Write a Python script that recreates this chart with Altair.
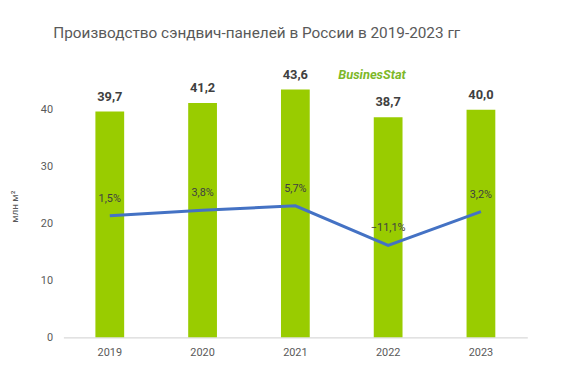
import altair as alt
import pandas as pd

years = ["2019", "2020", "2021", "2022", "2023"]
production = [39.7, 41.2, 43.6, 38.7, 40.0]
growth = [1.5, 3.8, 5.7, -11.1, 3.2]

df = pd.DataFrame({"year": years, "v": production, "p": growth})

FONT = "Roboto"
GREY = "#595959"

x = alt.X("year:N", title=None, scale=alt.Scale(paddingInner=0.69, paddingOuter=0.345),
          axis=alt.Axis(labelAngle=0, labelColor=GREY, labelFontSize=11, labelFont=FONT,
                        ticks=False, domainColor="#D9D9D9", domainWidth=1.5, labelPadding=9))

yax = alt.Y("v:Q", scale=alt.Scale(domain=[0, 50]),
            axis=alt.Axis(values=[0, 10, 20, 30, 40], grid=False, domain=False, ticks=False,
                          labelColor=GREY, labelFontSize=11, labelFont=FONT, labelPadding=11,
                          title="млн м²", titleFont=FONT, titleFontSize=10, titleColor=GREY,
                          titleFontWeight="normal", titleX=-44, titleY=155))

base = alt.Chart(df)

bars = base.mark_bar(color="#99CC00").encode(x=x, y=yax)
bar_labels = base.transform_calculate(
    lab="replace(format(datum.v, '.1f'), '.', ',')"
).mark_text(dy=-15, fontWeight="bold", fontSize=13, font=FONT, color="#404040").encode(
    x=x, y=alt.Y("v:Q"), text="lab:N")

logo = base.transform_filter("datum.year == '2019'").mark_text(
    text="BusinesStat", fontStyle="italic", fontWeight="bold", fontSize=13, font=FONT,
    color="#7DB828").encode(x=alt.value(312), y=alt.value(22))

left = alt.layer(bars, bar_labels, logo)

y2 = alt.Y("p:Q", scale=alt.Scale(domain=[-50.2, 70.6]), axis=None)
line = base.mark_line(color="#4472C4", strokeWidth=3).encode(x=x, y=y2)
pct_labels = base.transform_calculate(
    lab="replace(format(datum.p, '.1f'), '.', ',') + '%'"
).mark_text(dy=-17, fontSize=11, font=FONT, color="#404040").encode(
    x=x, y=y2, text="lab:N")
right = alt.layer(line, pct_labels)

chart = alt.layer(left, right).resolve_scale(y="independent").properties(
    width=469, height=287.5,
    autosize=alt.AutoSizeParams(type="none"),
    padding={"left": 56, "top": 43.5, "right": 30, "bottom": 30},
    title=alt.TitleParams("Производство сэндвич-панелей в России в 2019-2023 гг",
                          font=FONT, fontSize=15.5, fontWeight="normal", color=GREY,
                          anchor="middle", dx=-39, offset=12),
).configure_view(stroke=None)

chart.save("out.html", embed_options={"renderer": "svg", "actions": False})
